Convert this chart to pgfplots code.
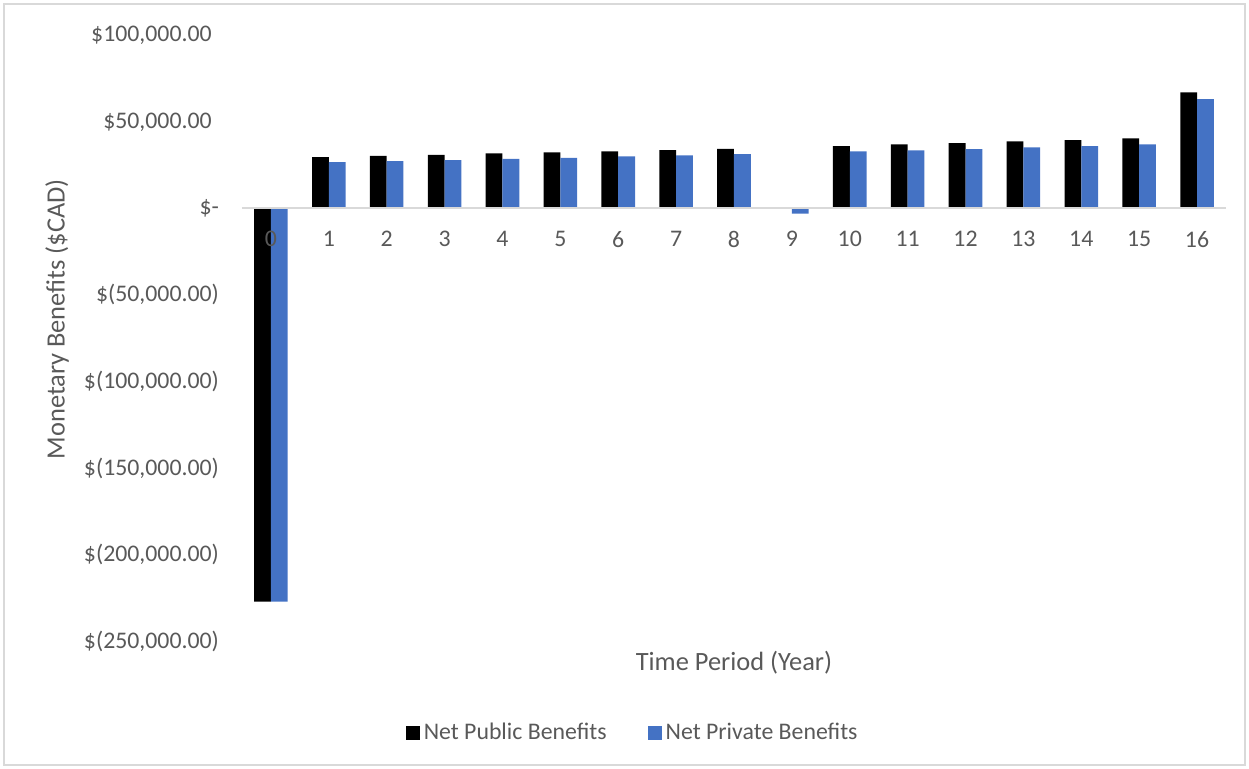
\documentclass[border=0pt]{standalone}
\usepackage{fontspec}
\setmainfont{Carlito}
\usepackage{pgfplots}
\pgfplotsset{compat=1.18}
\definecolor{txt}{HTML}{595959}
\definecolor{pblue}{HTML}{4472C4}
\definecolor{zline}{HTML}{D9D9D9}
\begin{document}
\begin{tikzpicture}
\useasboundingbox (-121pt,-63.75pt) rectangle (503.5pt,320.75pt);
\draw[zline, line width=0.6pt] (-119pt,-61.75pt) rectangle (501.5pt,318.75pt);
\begin{axis}[
  at={(0,0)}, anchor=south west,
  scale only axis, width=492pt, height=303.45pt,
  xmin=-0.5, xmax=16.5, ymin=-250000, ymax=100000,
  ybar=0pt, bar width=0.29,
  axis on top,
  axis x line=middle, axis y line=left,
  hide obscured x ticks=false,
  scaled y ticks=false,
  x axis line style={draw=zline, line width=0.75pt, -},
  y axis line style={draw=none, -},
  major tick length=0pt,
  xtick={0,...,16},
  ytick={-250000,-200000,-150000,-100000,-50000,0,50000,100000},
  yticklabels={{\$(250,000.00)},{\$(200,000.00)},{\$(150,000.00)},{\$(100,000.00)},{\$(50,000.00)},{\$-\hspace{0.63em}},{\$50,000.00\phantom{)}},{\$100,000.00\phantom{)}}},
  /pgf/number format/assume math mode=true,
  tick label style={font=\fontsize{11.9}{14}\selectfont, text=txt},
  xticklabel style={yshift=-8pt},
  yticklabel style={xshift=-8pt},
  xlabel={Time Period (Year)},
  ylabel={Monetary Benefits (\$CAD)},
  label style={font=\fontsize{13.2}{16}\selectfont, text=txt},
  xlabel style={at={(axis description cs:0.5,-0.0354)}, anchor=center},
  ylabel style={at={(axis description cs:-0.188,0.531)}, anchor=center},
  legend style={at={(axis description cs:0.398,-0.1508)}, anchor=center, draw=none, fill=none,
    legend columns=2, font=\fontsize{11.9}{14}\selectfont, text=txt,
    /tikz/every even column/.append style={column sep=18.5pt}},
  legend image code/.code={\fill[#1] (0pt,-3.5pt) rectangle (7pt,3.5pt);},
]
\addplot[fill=black, draw=none] coordinates {(0,-227000)(1,29300)(2,30060)(3,30630)(4,31440)(5,32020)(6,32600)(7,33350)(8,34100)(9,300)(10,35650)(11,36630)(12,37380)(13,38360)(14,39110)(15,40090)(16,66630)};
\addplot[fill=pblue, draw=none] coordinates {(0,-227000)(1,26420)(2,27000)(3,27580)(4,28330)(5,28900)(6,29710)(7,30290)(8,31040)(9,-3200)(10,32600)(11,33170)(12,33920)(13,34900)(14,35650)(15,36630)(16,62770)};
\legend{Net Public Benefits, Net Private Benefits}
\end{axis}
\end{tikzpicture}
\end{document}
